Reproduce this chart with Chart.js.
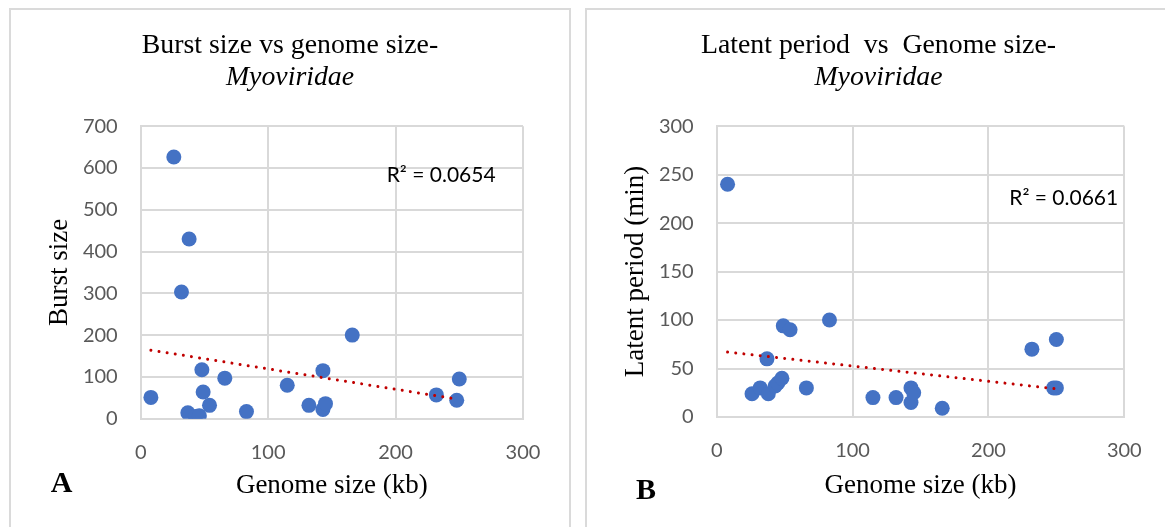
<!DOCTYPE html>
<html>
<head>
<meta charset="utf-8">
<script src="https://cdn.jsdelivr.net/npm/chart.js@4.4.1/dist/chart.umd.min.js"></script>
<style>
  html, body { margin:0; padding:0; background:#fff; width:1165px; height:527px; overflow:hidden; position:relative; }
  .panel { position:absolute; top:8px; height:600px; border:2px solid #dadada; box-sizing:border-box; }
  #p1 { left:9px; width:562px; }
  #p2 { left:585px; width:700px; }
  canvas { position:absolute; }
  #c1 { left:10px; top:9px; }
  #c2 { left:586px; top:9px; }
</style>
</head>
<body>
<div class="panel" id="p1"></div>
<div class="panel" id="p2"></div>
<canvas id="c1" width="560" height="518"></canvas>
<canvas id="c2" width="585" height="518"></canvas>
<script>
// ---- Data ----
const burstGenome = [8, 26, 32, 37, 38, 43, 46, 48, 49, 54, 66, 83, 115, 132, 143, 143, 145, 166, 232, 248, 250];
const burstSize   = [51, 626, 303, 14, 430, 5, 7, 117, 64, 32, 97, 17, 80, 32, 115, 22, 36, 200, 57, 44, 95];
const burstTrendX = [8, 248];
const burstTrendY = [164, 47];

const latentGenome = [8, 26, 32, 37, 38, 43, 45, 48, 49, 54, 66, 83, 115, 132, 143, 143, 145, 166, 232, 248, 250, 250];
const latentPeriod = [240, 24, 30, 60, 24, 32, 35, 40, 94, 90, 30, 100, 20, 20, 30, 15, 25, 9, 70, 30, 30, 80];
const latentTrendX = [8, 250];
const latentTrendY = [67, 29];

const genomeTicks = [0, 100, 200, 300];
const burstTicks  = [0, 100, 200, 300, 400, 500, 600, 700];
const latentTicks = [0, 50, 100, 150, 200, 250, 300];

const burstR2  = 'R² = 0.0654';
const latentR2 = 'R² = 0.0661';

// ---- helpers ----
const zip = (xs, ys) => xs.map((x, i) => ({x, y: ys[i]}));
const serif = '"Liberation Serif", "Times New Roman", serif';
const sans = 'Lato, "Open Sans", sans-serif';

const extraText = {
  id: 'extraText',
  afterDraw(chart, args, opts) {
    const ctx = chart.ctx;
    const xs = chart.scales.x, ys = chart.scales.y;
    ctx.save();
    ctx.fillStyle = '#000';
    ctx.textAlign = 'left';
    ctx.textBaseline = 'alphabetic';
    ctx.font = '21px ' + sans;
    ctx.fillText(opts.r2, xs.getPixelForValue(opts.r2x), ys.getPixelForValue(opts.r2y));
    ctx.font = 'bold 30px ' + serif;
    ctx.fillText(opts.letter, opts.lx, opts.ly);
    ctx.restore();
  }
};

function makeChart(id, cfg) {
  return new Chart(document.getElementById(id), {
    type: 'scatter',
    data: {
      datasets: [
        {
          data: zip(cfg.trendX, cfg.trendY),
          showLine: true,
          borderColor: '#C00000',
          borderWidth: 3,
          borderDash: [0.01, 8.2],
          borderCapStyle: 'round',
          pointRadius: 0,
          fill: false,
          order: 0
        },
        {
          data: zip(cfg.xs, cfg.ys),
          backgroundColor: '#4472C4',
          borderWidth: 0,
          pointRadius: 7.5,
          order: 1
        }
      ]
    },
    options: {
      responsive: false,
      animation: false,
      events: [],
      layout: { padding: 0 },
      plugins: {
        legend: { display: false },
        tooltip: { enabled: false },
        title: {
          display: true,
          text: cfg.title,
          color: '#000',
          font: { family: serif, size: 27.8, weight: 'normal', lineHeight: 1.2 },
          padding: { top: 20, bottom: 0 }
        },
        subtitle: {
          display: true,
          text: 'Myoviridae',
          color: '#000',
          font: { family: serif, size: 27.8, style: 'italic', weight: 'normal', lineHeight: 1.1 },
          padding: { top: 0, bottom: 33.2 }
        },
        extraText: cfg.extra
      },
      scales: {
        x: {
          type: 'linear',
          min: 0, max: 300,
          afterBuildTicks: s => { s.ticks = genomeTicks.map(v => ({value: v})); },
          afterFit: s => { s.height = cfg.xHeight; },
          grid: { color: '#d9d9d9', lineWidth: 2, drawTicks: false },
          border: { color: '#d9d9d9', width: 2 },
          ticks: { color: '#595959', font: { family: sans, size: 20 }, padding: 22, maxRotation: 0 },
          title: {
            display: true, text: 'Genome size (kb)', color: '#000',
            font: { family: serif, size: 27, lineHeight: 1.2 },
            padding: { top: 0, bottom: 24.8 }
          }
        },
        y: {
          type: 'linear',
          position: 'left',
          min: 0, max: cfg.yMax,
          afterBuildTicks: s => { s.ticks = cfg.yTicks.map(v => ({value: v})); },
          afterFit: s => { s.width = 130.7; },
          grid: { color: '#d9d9d9', lineWidth: 2, drawTicks: false },
          border: { color: '#d9d9d9', width: 2 },
          ticks: { color: '#595959', font: { family: sans, size: 20 }, padding: 23 },
          title: {
            display: true, text: cfg.yTitle, color: '#000',
            font: { family: serif, size: 27, lineHeight: 1.2 },
            padding: { top: 34, bottom: 0 }
          }
        },
        yRightSpace: {
          type: 'linear',
          position: 'right',
          display: true,
          min: 0, max: 1,
          afterFit: s => { s.width = cfg.padRight; },
          grid: { display: false, drawOnChartArea: false },
          border: { display: false },
          ticks: { display: false },
          title: { display: false }
        }
      }
    },
    plugins: [extraText]
  });
}

makeChart('c1', {
  title: 'Burst size vs genome size-',
  yTitle: 'Burst size',
  xs: burstGenome, ys: burstSize,
  trendX: burstTrendX, trendY: burstTrendY,
  yMax: 700, yTicks: burstTicks,
  padRight: 47, xHeight: 108.3,
  extra: { r2: burstR2, r2x: 193, r2y: 566, letter: 'A', lx: 40.7, ly: 482.7 }
});

makeChart('c2', {
  title: 'Latent period  vs  Genome size-',
  yTitle: 'Latent period (min)',
  xs: latentGenome, ys: latentPeriod,
  trendX: latentTrendX, trendY: latentTrendY,
  yMax: 300, yTicks: latentTicks,
  padRight: 46.7, xHeight: 110,
  extra: { r2: latentR2, r2x: 215.3, r2y: 218.3, letter: 'B', lx: 50, ly: 490.3 }
});
</script>
</body>
</html>
